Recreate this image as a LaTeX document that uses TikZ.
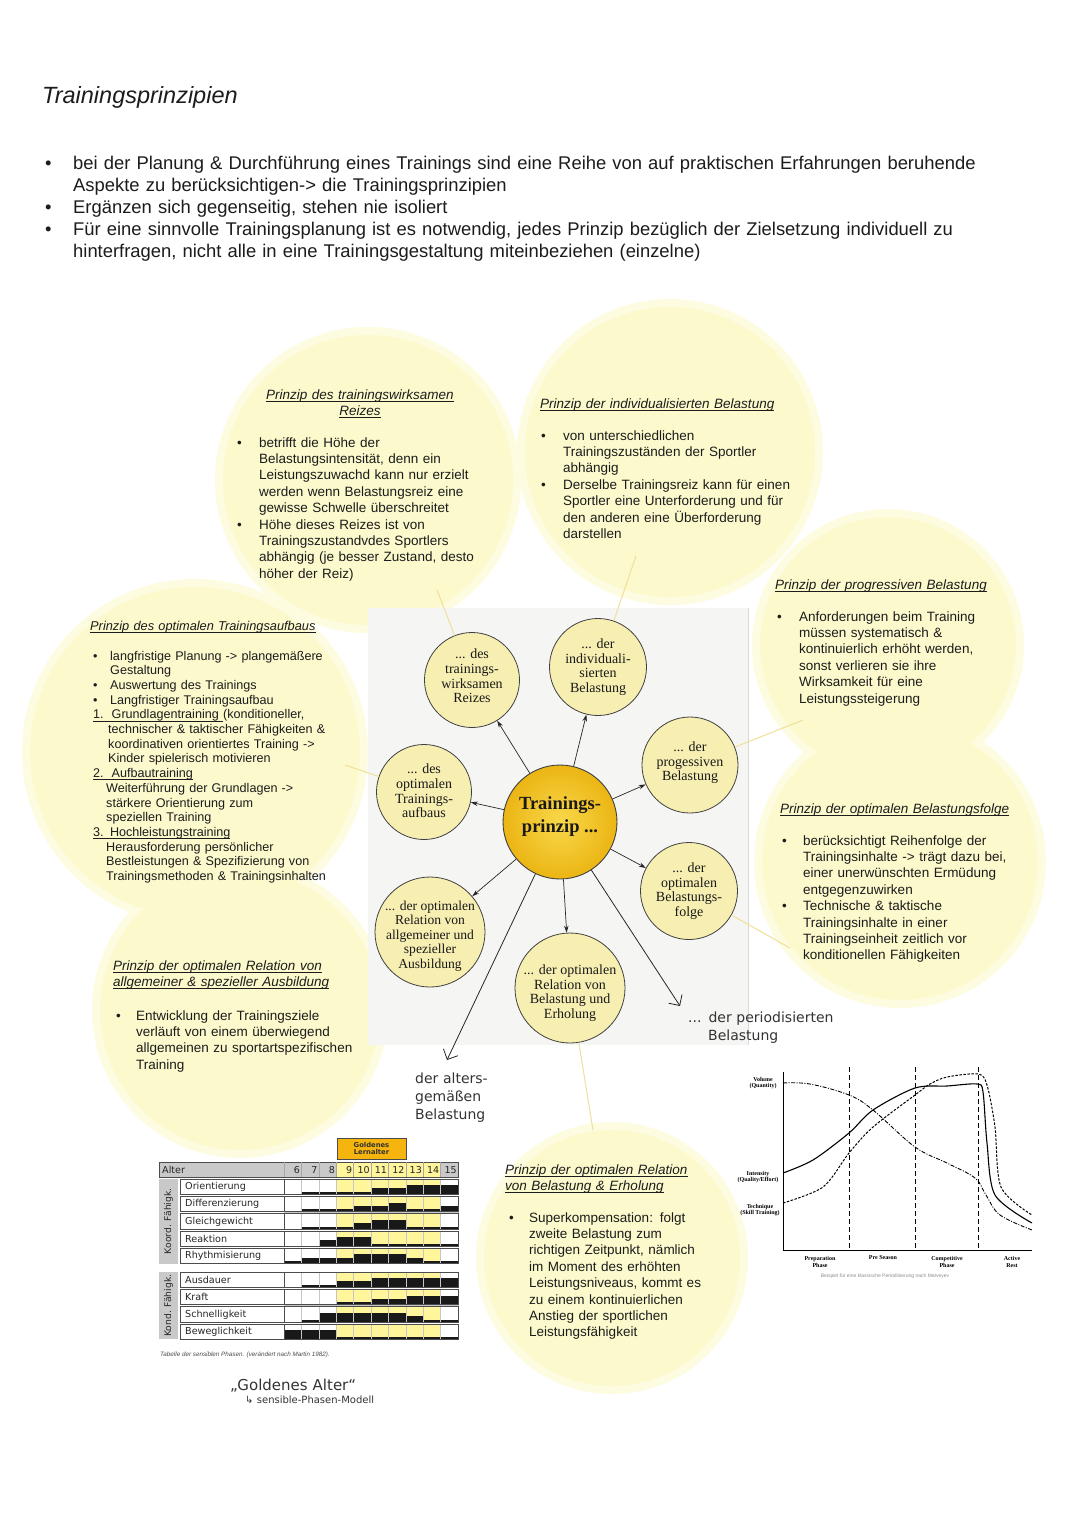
\documentclass[tikz,border=0pt]{standalone}
\usepackage{fontspec}
\setmainfont{Liberation Sans}
\newfontfamily\scanf{Liberation Serif}
\newfontfamily\djf{DejaVu Sans}
\usetikzlibrary{arrows.meta}
\definecolor{circY}{HTML}{FCF9CC}
\definecolor{circYh}{HTML}{FEFCE0}
\definecolor{nodeY}{HTML}{F7EFB2}
\definecolor{goldA}{HTML}{F9D84A}
\definecolor{goldB}{HTML}{EBB514}
\definecolor{tabY}{HTML}{FFF59A}
\definecolor{tabG}{HTML}{C9C9C9}
\definecolor{orangeG}{HTML}{F6B50E}
\definecolor{txt}{HTML}{1C1C1C}
\definecolor{lineY}{HTML}{EFE09A}
\definecolor{scanbg}{HTML}{F5F5F3}
\newsavebox\ulbox
\newcommand\uln[1]{\leavevmode\sbox\ulbox{#1}\rlap{\rule[-2.6pt]{\wd\ulbox}{0.75pt}}\usebox\ulbox}
\newcommand\brk{\newline}
\newcommand\bfirst[2][22pt]{\noindent\hangindent=#1\relax\hangafter=1\relax\makebox[#1][l]{\textbullet}#2}
\newcommand\bi[2][22pt]{\par\noindent\hangindent=#1\relax\hangafter=1\relax\makebox[#1][l]{\textbullet}#2}
\newcommand\numit[3]{\par\noindent\hangindent=#1\relax\hangafter=1\relax\uln{#2}#3}
\begin{document}
\begin{tikzpicture}[x=1pt,y=-1pt,
 satc/.style={circle, draw=black!75, line width=0.8pt, fill=nodeY, inner sep=0pt},
 scantxt/.style={align=center, inner sep=0pt, font=\scanf\fontsize{14}{14.6}\selectfont, text=black!90},
 cent/.style={circle, draw=black!75, line width=0.9pt, inner color=goldA, outer color=goldB, inner sep=0pt, minimum size=114pt},
 sarr/.style={draw=black!85, line width=0.7pt, -{Stealth[length=7pt,width=4.5pt]}},
 larr/.style={draw=black!85, line width=0.8pt, -{Straight Barb[length=8pt,width=16pt]}},
 yline/.style={draw=lineY, line width=1pt},
 head/.style={anchor=base west, inner sep=0pt, align=left, text width=340pt, font=\itshape\fontsize{13.5}{16.5}\selectfont, text=txt},
 headc/.style={anchor=base, inner sep=0pt, align=center, text width=300pt, font=\itshape\fontsize{13.5}{16.5}\selectfont, text=txt},
 body/.style={anchor=base west, inner sep=0pt, align=left, text width=340pt, font=\fontsize{13.5}{16.4}\selectfont, text=txt},
 hand/.style={anchor=base west, inner sep=0pt, align=left, text width=200pt, font=\djf\fontsize{14}{18}\selectfont, text=black!80},
 glab/.style={inner sep=0pt, align=center, font=\scanf\bfseries\fontsize{6}{6.6}\selectfont},
 tlab/.style={anchor=west, inner sep=0pt, font=\djf\fontsize{9.6}{10}\selectfont, text=black!85},
 tnum/.style={anchor=east, inner sep=0pt, font=\djf\fontsize{9.5}{10}\selectfont, text=black!85}
]
\useasboundingbox (0,0) rectangle (1080,1527);
\fill[white] (0,0) rectangle (1080,1527);

% ---------- header ----------
\node[anchor=base west, inner sep=0pt, font=\itshape\fontsize{23.5}{28}\selectfont, text=txt] (title) at (42,103) {Trainingsprinzipien};
\node[anchor=base west, inner sep=0pt, align=left, text width=1020pt, font=\fontsize{18.4}{22}\selectfont, text=txt] (intro) at (45,169)
{\bfirst[28pt]{bei der Planung \& Durchführung eines Trainings sind eine Reihe von auf praktischen Erfahrungen beruhende\brk Aspekte zu berücksichtigen-> die Trainingsprinzipien}%
\bi[28pt]{Ergänzen sich gegenseitig, stehen nie isoliert}%
\bi[28pt]{Für eine sinnvolle Trainingsplanung ist es notwendig, jedes Prinzip bezüglich der Zielsetzung individuell zu\brk hinterfragen, nicht alle in eine Trainingsgestaltung miteinbeziehen (einzelne)}\par};

% ---------- background circles ----------
\foreach \cx/\cy/\r in {368/480/145, 670/452/145, 888/645/128, 900/862/138, 195/752/165, 240/1010/140, 612/1258/128}
  {\fill[circYh] (\cx,\cy) circle[radius=\r pt+8pt];}
\foreach \cx/\cy/\r in {368/480/145, 670/452/145, 888/645/128, 900/862/138, 195/752/165, 240/1010/140, 612/1258/128}
  {\fill[circY] (\cx,\cy) circle[radius=\r pt];}

% ---------- circle texts ----------
\node[headc] (hReiz) at (360,399) {\uln{Prinzip des trainingswirksamen}\\\uln{Reizes}};
\node[body] (bReiz) at (237,447) {\bfirst{betrifft die Höhe der\brk Belastungsintensität, denn ein\brk Leistungszuwachd kann nur erzielt\brk werden wenn Belastungsreiz eine\brk gewisse Schwelle überschreitet}%
\bi{Höhe dieses Reizes ist von\brk Trainingszustandvdes Sportlers\brk abhängig (je besser Zustand, desto\brk höher der Reiz)}\par};

\node[head] (hInd) at (540,408) {\uln{Prinzip der individualisierten Belastung}};
\node[body] (bInd) at (541,440) {\bfirst{von unterschiedlichen\brk Trainingszuständen der Sportler\brk abhängig}%
\bi{Derselbe Trainingsreiz kann für einen\brk Sportler eine Unterforderung und für\brk den anderen eine Überforderung\brk darstellen}\par};

\node[head] (hProg) at (775,589) {\uln{Prinzip der progressiven Belastung}};
\node[body] (bProg) at (777,621) {\bfirst{Anforderungen beim Training\brk müssen systematisch \&\brk kontinuierlich erhöht werden,\brk sonst verlieren sie ihre\brk Wirksamkeit für eine\brk Leistungssteigerung}\par};

\node[head] (hFolge) at (780,813) {\uln{Prinzip der optimalen Belastungsfolge}};
\node[body] (bFolge) at (782,845) {\bfirst[21pt]{berücksichtigt Reihenfolge der\brk Trainingsinhalte -> trägt dazu bei,\brk einer unerwünschten Ermüdung\brk entgegenzuwirken}%
\bi[21pt]{Technische \& taktische\brk Trainingsinhalte in einer\brk Trainingseinheit zeitlich vor\brk konditionellen Fähigkeiten}\par};

\node[head, font=\itshape\fontsize{12.8}{15}\selectfont] (hAufb) at (90,630) {\uln{Prinzip des optimalen Trainingsaufbaus}};
\node[body, font=\fontsize{12.6}{14.7}\selectfont] (bAufb) at (93,660) {\bfirst[17pt]{langfristige Planung -> plangemäßere\brk Gestaltung}%
\bi[17pt]{Auswertung des Trainings}%
\bi[17pt]{Langfristiger Trainingsaufbau}%
\numit{15pt}{1.\hspace{8pt}Grundlagentraining }{(konditioneller,\brk technischer \& taktischer Fähigkeiten \&\brk koordinativen orientiertes Training ->\brk Kinder spielerisch motivieren}%
\numit{13pt}{2.\hspace{8pt}Aufbautraining}{\brk Weiterführung der Grundlagen ->\brk stärkere Orientierung zum\brk speziellen Training}%
\numit{13pt}{3. Hochleistungstraining}{\brk Herausforderung persönlicher\brk Bestleistungen \& Spezifizierung von\brk Trainingsmethoden \& Trainingsinhalten}\par};

\node[head] (hRel) at (113,970) {\uln{Prinzip der optimalen Relation von}\brk\uln{allgemeiner \& spezieller Ausbildung}};
\node[body] (bRel) at (116,1020) {\bfirst[20pt]{Entwicklung der Trainingsziele\brk verläuft von einem überwiegend\brk allgemeinen zu sportartspezifischen\brk Training}\par};

\node[head] (hErh) at (505,1174) {\uln{Prinzip der optimalen Relation}\brk\uln{von Belastung \& Erholung}};
\node[body] (bErh) at (509,1222) {\bfirst[20pt]{Superkompensation: folgt\brk zweite Belastung zum\brk richtigen Zeitpunkt, nämlich\brk im Moment des erhöhten\brk Leistungsniveaus, kommt es\brk zu einem kontinuierlichen\brk Anstieg der sportlichen\brk Leistungsfähigkeit}\par};

% ---------- scanned diagram ----------
\fill[scanbg] (368,608) rectangle (748,1045);
\draw[black!15, line width=0.6pt] (748,608) -- (748,1045);

\node[cent] (core) at (560,822) {};
\node[satc, minimum size=95pt] (reiz) at (472,680) {};
\node[satc, minimum size=97pt] (indiv) at (598,667) {};
\node[satc, minimum size=96pt] (prog) at (690,765) {};
\node[satc, minimum size=95pt] (aufb) at (424,792) {};
\node[satc, minimum size=97pt] (folge) at (689,891) {};
\node[satc, minimum size=110pt] (allg) at (430,932) {};
\node[satc, minimum size=110pt] (erh) at (570,988) {};

\node[scantxt] (reizT) at (472,676) {... des\\trainings-\\wirksamen\\Reizes};
\node[scantxt] (indivT) at (598,667) {... der\\individuali-\\sierten\\Belastung};
\node[scantxt] (progT) at (690,763) {... der\\progessiven\\Belastung};
\node[scantxt] (aufbT) at (424,791) {... des\\optimalen\\Trainings-\\aufbaus};
\node[scantxt] (folgeT) at (689,891) {... der\\optimalen\\Belastungs-\\folge};
\node[scantxt, font=\scanf\fontsize{13.6}{14.6}\selectfont] (allgT) at (430,936) {... der optimalen\\Relation von\\allgemeiner und\\spezieller\\Ausbildung};
\node[scantxt] (erhT) at (570,993) {... der optimalen\\Relation von\\Belastung und\\Erholung};
\node[scantxt, font=\scanf\bfseries\fontsize{18.5}{23}\selectfont] (coreT) at (560,817) {Trainings-\\prinzip ...};

\foreach \s in {reiz,indiv,prog,aufb,folge,allg,erh} {\draw[sarr] (core) -- (\s);}

\coordinate (altEnd) at (447,1060);
\coordinate (perEnd) at (680,1006);
\draw[larr] (core) -- (altEnd);
\draw[larr] (core) -- (perEnd);

% yellow connectors
\coordinate (y1) at (437,590);
\coordinate (y2) at (636,556);
\coordinate (y3) at (803,720);
\coordinate (y4) at (790,948);
\coordinate (y5) at (345,765);
\coordinate (y7) at (593,1130);
\draw[yline] (y1) -- (reiz);
\draw[yline] (y2) -- (indiv);
\draw[yline] (y3) -- (prog);
\draw[yline] (y4) -- (folge);
\draw[yline] (y5) -- (aufb);
\draw[yline] (erh) -- (y7);

% handwritten notes
\node[hand] (alters) at (415,1083) {der alters-\\gemäßen\\Belastung};
\node[hand] (period) at (688,1022) {... der periodisierten\\\hspace*{20pt}Belastung};
\node[hand, font=\djf\fontsize{15}{13}\selectfont] (golden) at (230,1390) {„Goldenes Alter“};
\node[hand, font=\djf\fontsize{10}{12}\selectfont] (sensib) at (245,1403) {↳ sensible-Phasen-Modell};

% ---------- table ----------
\def\cw{17.4}
\node[fill=orangeG, draw=black!70, line width=0.6pt, minimum width=69pt, minimum height=21pt, inner sep=0pt, align=center, font=\djf\bfseries\fontsize{6.8}{7.8}\selectfont, text=black!80] (gold) at (371.5,1148.5) {Goldenes\\Lernalter};
\fill[tabG] (159,1162) rectangle (458,1177);
\fill[tabY] (336.2,1162) rectangle (440.6,1177);
\draw[gray!60!black, line width=0.7pt] (159,1162) rectangle (458,1177);
\foreach \n [count=\i from 0] in {6,...,15} {
  \draw[gray!70, line width=0.5pt] ({284+\i*\cw},1162) -- ({284+\i*\cw},1177);
  \node[tnum] (num\n) at ({284+(\i+1)*\cw-1.2},1169.8) {\n};
}
\node[tlab] (alter) at (162,1169.8) {Alter};

\foreach \lab/\ty/\lv in {
 Orientierung/1179/{0,.15,.15,.15,.15,.4,.4,.6,.6,.6},
 Differenzierung/1196.3/{0,.15,.15,.15,.4,.4,.6,.15,.15,.4},
 Gleichgewicht/1213.6/{0,.15,.15,.15,.4,.6,.6,.15,.15,.15},
 Reaktion/1230.9/{0,0,.4,.6,.6,.15,.15,.15,.15,.15},
 Rhythmisierung/1248.2/{.15,.4,.4,.4,.6,.6,.6,.4,.15,.15},
 Ausdauer/1272/{0,.15,.15,.4,.4,.6,.6,.6,.6,.6},
 Kraft/1289.3/{0,0,0,.15,.15,.4,.4,.6,.6,.6},
 Schnelligkeit/1306.6/{0,.15,.6,.6,.6,.6,.6,.4,.15,.15},
 Beweglichkeit/1323.9/{.6,.6,.6,.15,.15,.15,.15,.15,.15,.15}}
{
  \fill[white] (180,\ty) rectangle (284,\ty+15.5);
  \foreach \h [count=\i from 0] in \lv {
    \pgfmathsetmacro\cx{284+\i*\cw}
    \def\cf{white}
    \ifnum\i>2 \ifnum\i<9 \def\cf{tabY}\fi\fi
    \fill[\cf] (\cx,\ty) rectangle ({\cx+\cw},\ty+15.5);
    \ifdim\h pt>0pt \fill[black!90] (\cx,\ty+15.5) rectangle ({\cx+\cw},{\ty+15.5-\h*15.5}); \fi
    \draw[gray!45, line width=0.5pt] (\cx,\ty) rectangle ({\cx+\cw},\ty+15.5);
  }
  \draw[gray!60!black, line width=0.8pt] (180,\ty) rectangle (458,\ty+15.5);
  \draw[gray!60!black, line width=0.6pt] (284,\ty) -- (284,\ty+15.5);
  \node[tlab] (lab\lab) at (185,\ty+8) {\lab};
}
\fill[tabG] (159,1179) rectangle (178,1263.7);
\fill[tabG] (159,1272) rectangle (178,1339.4);
\node[rotate=90, inner sep=0pt, font=\djf\fontsize{9.2}{10}\selectfont, text=black!85] (koord) at (168.5,1221.3) {Koord. Fähigk.};
\node[rotate=90, inner sep=0pt, font=\djf\fontsize{9.2}{10}\selectfont, text=black!85] (kond) at (168.5,1305.7) {Kond. Fähigk.};
\node[anchor=west, inner sep=0pt, font=\itshape\fontsize{6.3}{7}\selectfont, text=black!70] (tcap) at (160,1355) {Tabelle der sensiblen Phasen. (verändert nach Martin 1982).};

% ---------- periodisation graph ----------
\draw[black, line width=1pt] (783,1072) -- (783,1250) -- (1032,1250);
\foreach \xx in {849,915,978} {\draw[black, line width=0.9pt, dash pattern=on 5pt off 3pt] (\xx,1067) -- (\xx,1250);}
\draw[black, line width=0.9pt, dash pattern=on 4pt off 1.5pt on 1pt off 1.5pt] plot[smooth, tension=0.6] coordinates {(783,1083) (810,1084) (849,1095) (873,1110) (915,1147) (947,1163) (975,1178) (986,1195) (1000,1215) (1032,1230)};
\draw[black, line width=1.1pt] plot[smooth, tension=0.5] coordinates {(783,1173) (813,1160) (849,1133) (873,1110) (915,1088) (947,1086) (977,1084) (983,1092) (987,1143) (995,1195) (1032,1223)};
\draw[black, line width=1pt, dash pattern=on 2.5pt off 1.5pt] plot[smooth, tension=0.5] coordinates {(783,1203) (823,1187) (849,1153) (873,1127) (915,1095) (930,1084) (947,1077) (978,1074) (987,1085) (995,1127) (1001,1187) (1032,1215)};
\node[glab] (gVol) at (763,1083) {Volume\\(Quantity)};
\node[glab] (gInt) at (758,1177) {Intensity\\(Quality/Effort)};
\node[glab] (gTec) at (760,1210) {Technique\\(Skill Training)};
\node[glab] (gPrep) at (820,1262) {Preparation\\Phase};
\node[glab] (gPre) at (883,1258) {Pre Season};
\node[glab] (gComp) at (947,1262) {Competitive\\Phase};
\node[glab] (gRest) at (1012,1262) {Active\\Rest};
\node[inner sep=0pt, font=\fontsize{5}{6}\selectfont, text=black!45] (gCap) at (885,1276) {Beispiel für eine klassische Periodisierung nach Matveyev};
\end{tikzpicture}
\end{document}
